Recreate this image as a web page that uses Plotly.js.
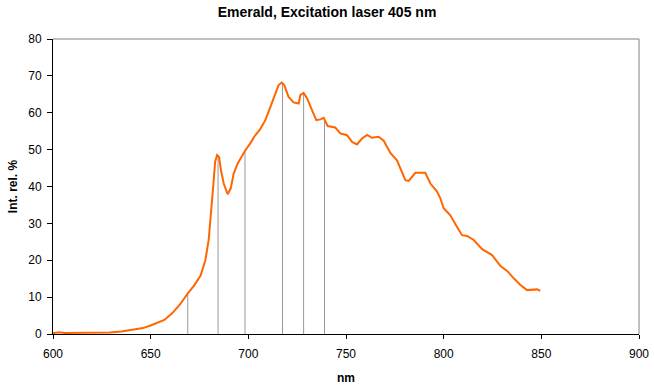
<!DOCTYPE html>
<html>
<head>
<meta charset="utf-8">
<script src="https://cdn.plot.ly/plotly-3.0.1.min.js"></script>
<style>html,body{margin:0;padding:0;background:#fff}#chart{width:654px;height:388px}</style>
</head>
<body>
<div id="chart"></div>
<script>
// Emission spectrum (wavelength nm, relative intensity %)
var wavelength = [600,603,606,610,620,629,635,641,646,650,654,657,661,665,669,672,675.5,678,679.7,681,682,683,684,685,686,687.4,689.4,691,692.5,694.5,698.3,701,703,706,708.7,711.3,713.8,715.5,717.1,718.4,720.6,723.2,725.8,726.6,728.3,730.1,732.6,734.8,736.9,738.6,740.6,744.5,747.1,750.5,753.1,755.6,758.2,760.8,763.3,766.7,769.3,772.7,776.1,777.8,780.4,782.1,785.5,790.6,793.2,796.6,798.3,800,803.4,806.8,809.4,812,815.4,819.7,824.8,829.1,832.5,835.9,839.3,842.7,846.1,847.8,849.5];
var intensity = [0.2,0.5,0.3,0.3,0.3,0.4,0.7,1.1,1.6,2.3,3.2,3.8,5.6,8.0,11.0,13.0,15.8,20.0,25.5,32.7,39.9,46.7,48.5,48.0,44.4,40.8,37.9,39.5,43.5,46.2,49.7,51.7,53.5,55.5,58.0,61.6,65.2,67.5,68.2,67.5,64.3,62.8,62.5,64.8,65.4,63.9,60.7,58.0,58.2,58.6,56.4,56.0,54.4,53.9,52.1,51.4,53.0,54.0,53.2,53.5,52.4,49.1,47.1,44.9,41.7,41.5,43.7,43.7,40.8,38.6,36.8,34.1,32.2,29.1,26.8,26.6,25.5,23.0,21.4,18.4,17.1,15.1,13.3,11.9,11.9,12.1,11.7];
// Marked peaks (vertical drop lines)
var peakNm = [669, 684.5, 698.3, 717.5, 728.3, 739];
var peakVal = [11.0, 48.5, 49.7, 68.2, 65.4, 58.4];
var xTicks = [600,650,700,750,800,850,900];
var yTicks = [0,10,20,30,40,50,60,70,80];

var dropX = [], dropY = [];
for (var i = 0; i < peakNm.length; i++) {
  dropX.push(peakNm[i], peakNm[i], null);
  dropY.push(0, peakVal[i], null);
}

var font = 'Arial, "Liberation Sans", sans-serif';
var traces = [
  {x: dropX, y: dropY, mode: 'lines', line: {color: '#999999', width: 1}, hoverinfo: 'skip', showlegend: false},
  {x: wavelength, y: intensity, mode: 'lines', line: {color: '#FF6600', width: 2}, showlegend: false}
];
var layout = {
  width: 654, height: 388,
  margin: {l: 53, r: 15, t: 39, b: 54, pad: 0},
  paper_bgcolor: '#fff', plot_bgcolor: '#fff',
  font: {family: font, size: 12, color: '#000'},
  title: {text: '<b>Emerald, Excitation laser 405 nm</b>', font: {family: font, size: 14, color: '#000'},
          xref: 'container', x: 0.5, xanchor: 'center', yref: 'container', y: 1 - 12/388, yanchor: 'middle'},
  xaxis: {range: [600, 900], tickvals: xTicks, ticktext: xTicks.map(String), showgrid: false, zeroline: false,
          showline: true, linecolor: '#000', linewidth: 1, ticks: 'outside', ticklen: 4, tickcolor: '#000',
          tickfont: {size: 12}, ticklabelstandoff: 5, title: {text: '<b>nm</b>', font: {size: 12}, standoff: 13}},
  yaxis: {range: [0, 80], tickvals: yTicks, ticktext: yTicks.map(String), showgrid: false, zeroline: false,
          showline: true, linecolor: '#000', linewidth: 1, ticks: 'outside', ticklen: 5, tickcolor: '#000',
          tickfont: {size: 12}, ticklabelstandoff: 3, title: {text: '<b>Int. rel. %</b>', font: {size: 12}, standoff: 8}},
  shapes: [
    {type: 'line', xref: 'paper', yref: 'paper', x0: 0, x1: 1, y0: 1, y1: 1, line: {color: '#808080', width: 1}},
    {type: 'line', xref: 'paper', yref: 'paper', x0: 1, x1: 1, y0: 0, y1: 1, line: {color: '#808080', width: 1}}
  ]
};
Plotly.newPlot('chart', traces, layout, {staticPlot: true, displayModeBar: false});
</script>
</body>
</html>
